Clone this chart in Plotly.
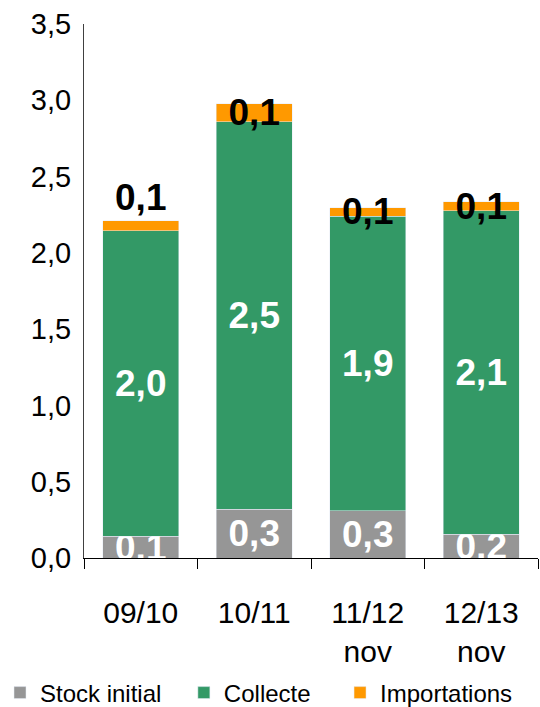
import plotly.graph_objects as go

# Campaign categories (x axis)
campagnes = ["09/10", "10/11", "11/12<br>nov", "12/13<br>nov"]

# Stacked series values
stock_initial = [0.144, 0.32, 0.31, 0.156]
collecte = [2.0, 2.54, 1.93, 2.12]
importations = [0.066, 0.118, 0.057, 0.059]

series_names = ["Stock initial", "Collecte", "Importations"]

FONT = "Arial, Liberation Sans, sans-serif"
GRAY = "#969696"
GREEN = "#339966"
ORANGE = "#FF9900"

label_font_white = dict(family=FONT, size=37, color="white", weight="bold")
label_font_black = dict(family=FONT, size=37, color="black", weight="bold")

fig = go.Figure()

fig.add_trace(go.Bar(
    name=series_names[0], x=campagnes, y=stock_initial,
    marker_color=GRAY, legend="legend",
    texttemplate="%{y:.1f}", textposition="inside",
    insidetextanchor="middle", constraintext="none",
    textfont=label_font_white, insidetextfont=label_font_white,
))
fig.add_trace(go.Bar(
    name=series_names[1], x=campagnes, y=collecte,
    marker_color=GREEN, legend="legend2",
    texttemplate="%{y:.1f}", textposition="inside",
    insidetextanchor="middle", constraintext="none",
    textfont=label_font_white, insidetextfont=label_font_white,
))
fig.add_trace(go.Bar(
    name=series_names[2], x=campagnes, y=importations,
    marker_color=ORANGE, legend="legend3",
    texttemplate="%{y:.1f}",
    textposition=["outside", "inside", "inside", "inside"],
    insidetextanchor="middle", constraintext="none",
    textfont=label_font_black, insidetextfont=label_font_black,
    outsidetextfont=label_font_black, cliponaxis=False,
))

# One single-entry legend per series, laid out in a row along the bottom
legend_style = dict(
    orientation="h", xref="container", xanchor="left",
    yref="container", y=0.0198, yanchor="middle",
    font=dict(family=FONT, size=24, color="black"),
    itemclick=False, bgcolor="rgba(0,0,0,0)",
)

fig.update_layout(
    width=540, height=707,
    margin=dict(l=84, r=2, t=24, b=149),
    barmode="stack", bargap=0.33,
    separators=", ",
    paper_bgcolor="white", plot_bgcolor="white",
    font=dict(family=FONT, size=28, color="black"),
    showlegend=True,
    legend=dict(legend_style, x=-0.026),
    legend2=dict(legend_style, x=0.3405),
    legend3=dict(legend_style, x=0.6297),
)

fig.update_xaxes(
    showline=True, linecolor="black", linewidth=1,
    ticks="outside", tickson="boundaries", ticklen=10, tickcolor="black",
    ticklabelstandoff=28,
    tickfont=dict(family=FONT, size=30, color="black"),
    showgrid=False, automargin=False,
)
fig.update_yaxes(
    range=[0, 3.5], dtick=0.5, tickformat=".1f",
    showline=True, linecolor="#404040", linewidth=1,
    ticks="", ticklabelstandoff=6,
    tickfont=dict(family=FONT, size=29, color="black"),
    showgrid=False, zeroline=False, automargin=False,
)

fig.write_html("out.html")
